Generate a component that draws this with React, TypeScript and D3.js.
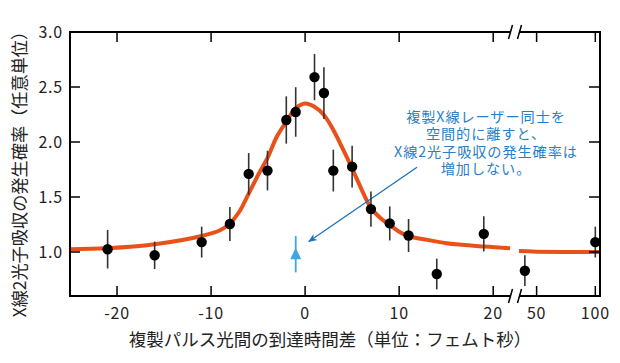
import React from "react";
import * as d3 from "d3";

// measured points (delay in fs, probability a.u., error)
const delays = [-21, -16, -11, -8, -6, -4, -2, -1, 1, 2, 3, 5, 7, 9, 11, 14, 19, 40, 100];
const probs = [1.025, 0.97, 1.09, 1.255, 1.71, 1.74, 2.2, 2.273, 2.59, 2.445, 1.74, 1.776, 1.39, 1.26, 1.15, 0.8, 1.165, 0.83, 1.09];
const errs = [0.175, 0.125, 0.14, 0.155, 0.19, 0.18, 0.215, 0.225, 0.21, 0.235, 0.19, 0.19, 0.16, 0.155, 0.15, 0.14, 0.16, 0.14, 0.14];

// separated-beam reference point (blue triangle)
const refDelay = -1;
const refProb = 0.98;
const refErr = 0.165;

// fitted curve
const fitX = [-25, -21, -16, -11, -9, -8, -7, -6, -5, -4, -3, -2, -1, 0, 1, 2, 3, 4, 5, 6, 7, 8, 9, 10, 11, 13, 15, 19, 21.8];
const fitY = [1.025, 1.034, 1.07, 1.145, 1.2, 1.26, 1.366, 1.53, 1.7, 1.855, 2.05, 2.185, 2.306, 2.35, 2.32, 2.245, 2.11, 1.94, 1.76, 1.57, 1.4, 1.31, 1.245, 1.185, 1.145, 1.11, 1.08, 1.05, 1.035];
const fitX2 = [35, 50, 100, 104];
const fitY2 = [1.008, 1.003, 1.0, 1.0];

const yTicks = [1.0, 1.5, 2.0, 2.5, 3.0];
const xTicksLeft = [-20, -10, 0, 10, 20];
const xTicksRight = [50, 100];

const noteLines = ["複製X線レーザー同士を", "空間的に離すと、", "X線2光子吸収の発生確率は", "増加しない。"];
const yTitle = "X線2光子吸収の発生確率（任意単位）";
const xTitle = "複製パルス光間の到達時間差（単位：フェムト秒）";

const FONT = "'Noto Sans CJK JP', 'Noto Sans', sans-serif";

export default function App() {
  const margin = { top: 32, left: 70 };
  const W = 530;
  const H = 264;
  const gapL = 441;
  const gapR = 450;

  const xL = d3.scaleLinear().domain([-25, 22]).range([0, 442]);
  const xR = d3.scaleLinear().domain([35, 104]).range([449, W]);
  const xPos = (v: number) => (v > 30 ? xR(v) : xL(v));
  const y = d3.scaleLinear().domain([0.6, 3.0]).range([H, 0]);

  const line = d3
    .line<[number, number]>()
    .x((d) => xPos(d[0]))
    .y((d) => y(d[1]))
    .curve(d3.curveCatmullRom.alpha(0.5));

  const fit1 = fitX.map((v, i) => [v, fitY[i]] as [number, number]);
  const fit2 = fitX2.map((v, i) => [v, fitY2[i]] as [number, number]);

  const breakMark = (cx: number, cy: number, k: number) => (
    <line key={k} x1={cx - 2} y1={cy + 7} x2={cx + 2} y2={cy - 7} stroke="#000" strokeWidth={1.5} />
  );

  const arrowStart: [number, number] = [11.9, 1.77];
  const arrowEnd: [number, number] = [0.4, 1.095];

  return (
    <svg width={620} height={363} style={{ position: "absolute", left: 0, top: 0, background: "#fff" }}>
      <defs>
        <marker id="ah" viewBox="0 0 10 10" refX="9" refY="5" markerWidth="7" markerHeight="7" orient="auto">
          <path d="M0,1 L10,5 L0,9 L3,5 Z" fill="#1a72c0" />
        </marker>
      </defs>
      <g transform={`translate(${margin.left},${margin.top})`}>
        {/* fit curve */}
        <path d={line(fit1) || ""} fill="none" stroke="#e8521a" strokeWidth={4} />
        <path d={line(fit2) || ""} fill="none" stroke="#e8521a" strokeWidth={4} />

        {/* arrow */}
        <line
          x1={xPos(arrowStart[0])}
          y1={y(arrowStart[1])}
          x2={xPos(arrowEnd[0])}
          y2={y(arrowEnd[1])}
          stroke="#1a72c0"
          strokeWidth={1.3}
          markerEnd="url(#ah)"
        />

        {/* error bars and points */}
        {delays.map((d, i) => (
          <g key={i}>
            <line x1={xPos(d)} x2={xPos(d)} y1={y(probs[i] - errs[i])} y2={y(probs[i] + errs[i])} stroke="#333" strokeWidth={1.6} />
            <circle cx={xPos(d)} cy={y(probs[i])} r={5.2} fill="#000" />
          </g>
        ))}

        {/* reference triangle */}
        <line x1={xPos(refDelay)} x2={xPos(refDelay)} y1={y(refProb - refErr)} y2={y(refProb + refErr)} stroke="#3ea6e0" strokeWidth={1.8} />
        <path
          d={`M${xPos(refDelay)},${y(refProb) - 6.5} L${xPos(refDelay) + 5.5},${y(refProb) + 5} L${xPos(refDelay) - 5.5},${y(refProb) + 5} Z`}
          fill="#3ea6e0"
        />

        {/* frame with break */}
        <line x1={0} y1={0} x2={0} y2={H} stroke="#000" strokeWidth={2} />
        <line x1={W} y1={0} x2={W} y2={H} stroke="#000" strokeWidth={2} />
        <line x1={-1} y1={0} x2={gapL} y2={0} stroke="#000" strokeWidth={2} />
        <line x1={gapR} y1={0} x2={W + 1} y2={0} stroke="#000" strokeWidth={2} />
        <line x1={-1} y1={H} x2={gapL} y2={H} stroke="#000" strokeWidth={2} />
        <line x1={gapR} y1={H} x2={W + 1} y2={H} stroke="#000" strokeWidth={2} />
        {breakMark(gapL - 0.5, 0, 1)}
        {breakMark(gapR - 0.5, 0, 2)}
        {breakMark(gapL - 0.5, H, 3)}
        {breakMark(gapR - 0.5, H, 4)}

        {/* y ticks */}
        {yTicks.map((t) => (
          <g key={t}>
            {t < 3 && <line x1={0} x2={10} y1={y(t)} y2={y(t)} stroke="#000" strokeWidth={1.5} />}
            {t < 3 && <line x1={W - 11} x2={W} y1={y(t)} y2={y(t)} stroke="#000" strokeWidth={1.5} />}
            <text x={-7} y={y(t) + 5.5} textAnchor="end" fontSize={16} letterSpacing={0.8} fontFamily={FONT} fill="#222">
              {t.toFixed(1)}
            </text>
          </g>
        ))}

        {/* x ticks */}
        {[...xTicksLeft.map((t) => xL(t)), ...xTicksRight.map((t) => xR(t))].map((px, i) => (
          <g key={i}>
            <line x1={px} x2={px} y1={H} y2={H - 10} stroke="#000" strokeWidth={1.5} />
            <line x1={px} x2={px} y1={0} y2={10} stroke="#000" strokeWidth={1.5} />
            <text x={px} y={H + 23} textAnchor="middle" fontSize={16} letterSpacing={0.8} fontFamily={FONT} fill="#222">
              {[...xTicksLeft, ...xTicksRight][i]}
            </text>
          </g>
        ))}

        {/* annotation */}
        {noteLines.map((s, i) => (
          <text
            key={i}
            x={416}
            y={89.5 + i * 17.6}
            textAnchor="middle"
            fontSize={14.2}
            letterSpacing={0.9}
            fontFamily={FONT}
            fill="#2a80c8"
          >
            {s}
          </text>
        ))}
      </g>

      {/* axis titles */}
      <text
        transform="translate(26,170) rotate(-90)"
        textAnchor="middle"
        fontSize={17.2}
        fontFamily={FONT}
        fill="#222"
      >
        {yTitle}
      </text>
      <text x={330} y={346} textAnchor="middle" fontSize={17.5} fontFamily={FONT} fill="#222">
        {xTitle}
      </text>
    </svg>
  );
}
